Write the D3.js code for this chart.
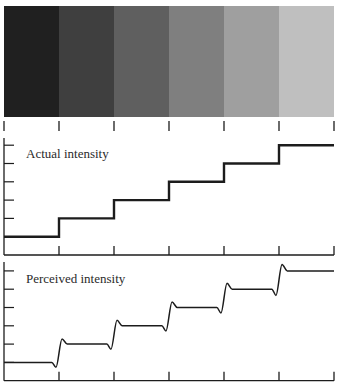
<!DOCTYPE html>
<html><head><meta charset="utf-8">
<script src="https://cdn.jsdelivr.net/npm/d3@7"></script>
<style>body{margin:0;background:#fff}svg{display:block}</style>
</head><body>
<script>
// Data
const bands = [0, 1, 2, 3, 4, 5];
const bandGray = [32, 63, 95, 127, 159, 191];
const xTicks = [0, 1, 2, 3, 4, 5, 6];
const yTicks = [1, 2, 3, 4, 5, 6];
const actualX = [0, 1, 2, 3, 4, 5, 6];
const actualY = [1, 2, 3, 4, 5, 6, 6];
const perceivedX = [0, 0.87, 0.945, 1.055, 1.15,
                    1.87, 1.945, 2.055, 2.15,
                    2.87, 2.945, 3.055, 3.15,
                    3.87, 3.945, 4.055, 4.15,
                    4.87, 4.945, 5.055, 5.15, 6];
const perceivedY = [1, 1, 0.73, 2.28, 2,
                    2, 1.72, 3.3, 3,
                    3, 2.72, 4.3, 4,
                    4, 3.7, 5.32, 5,
                    5, 4.66, 6.35, 6, 6];
const labels = ["Actual intensity", "Perceived intensity"];

const W = 343, H = 387;
const svg = d3.select("body").append("svg").attr("width", W).attr("height", H);
const x = d3.scaleLinear().domain([0, 6]).range([4, 334]);
const ink = "#1c1c1c";

// Top bands
svg.append("g").selectAll("rect").data(bands).join("rect")
  .attr("x", d => x(d)).attr("y", 6)
  .attr("width", d => x(d + 1) - x(d)).attr("height", 111)
  .attr("fill", (d, i) => d3.rgb(bandGray[i], bandGray[i], bandGray[i]));

// Ticks under the bands
svg.append("g").selectAll("line").data(xTicks).join("line")
  .attr("x1", d => x(d)).attr("x2", d => x(d))
  .attr("y1", 121).attr("y2", 131)
  .attr("stroke", ink).attr("stroke-width", 1.3);

function panel(yTop, yBottom, label, drawLine) {
  const y = d3.scaleLinear().domain([0, 6]).range([yBottom, yBottom - 6 * 18.3]);
  const g = svg.append("g");
  g.append("line").attr("x1", x(0)).attr("x2", x(0)).attr("y1", yTop).attr("y2", yBottom)
    .attr("stroke", ink).attr("stroke-width", 1.3);
  g.append("line").attr("x1", x(0)).attr("x2", x(6)).attr("y1", yBottom).attr("y2", yBottom)
    .attr("stroke", ink).attr("stroke-width", 1.3);
  g.append("g").selectAll("line").data(yTicks).join("line")
    .attr("x1", x(0)).attr("x2", x(0) + 10)
    .attr("y1", d => y(d)).attr("y2", d => y(d))
    .attr("stroke", ink).attr("stroke-width", 1.2);
  g.append("g").selectAll("line").data(xTicks.slice(1)).join("line")
    .attr("x1", d => x(d)).attr("x2", d => x(d))
    .attr("y1", yBottom - 9).attr("y2", yBottom)
    .attr("stroke", ink).attr("stroke-width", 1.3);
  g.append("text").attr("x", 26).attr("y", y(6) + 12.5)
    .attr("font-family", "Liberation Serif, Times New Roman, serif")
    .attr("font-size", 13).attr("fill", "#2a2a2a").text(label);
  drawLine(g, y);
}

panel(138, 255, labels[0], (g, y) => {
  const line = d3.line().x((d, i) => x(actualX[i])).y(d => y(d)).curve(d3.curveStepAfter);
  g.append("path").datum(actualY).attr("d", line)
    .attr("fill", "none").attr("stroke", ink).attr("stroke-width", 2.4);
});

panel(262, 380.7, labels[1], (g, y) => {
  const line = d3.line().x((d, i) => x(perceivedX[i])).y(d => y(d)).curve(d3.curveMonotoneX);
  g.append("path").datum(perceivedY).attr("d", line)
    .attr("fill", "none").attr("stroke", ink).attr("stroke-width", 1.5);
});
</script>
</body></html>
